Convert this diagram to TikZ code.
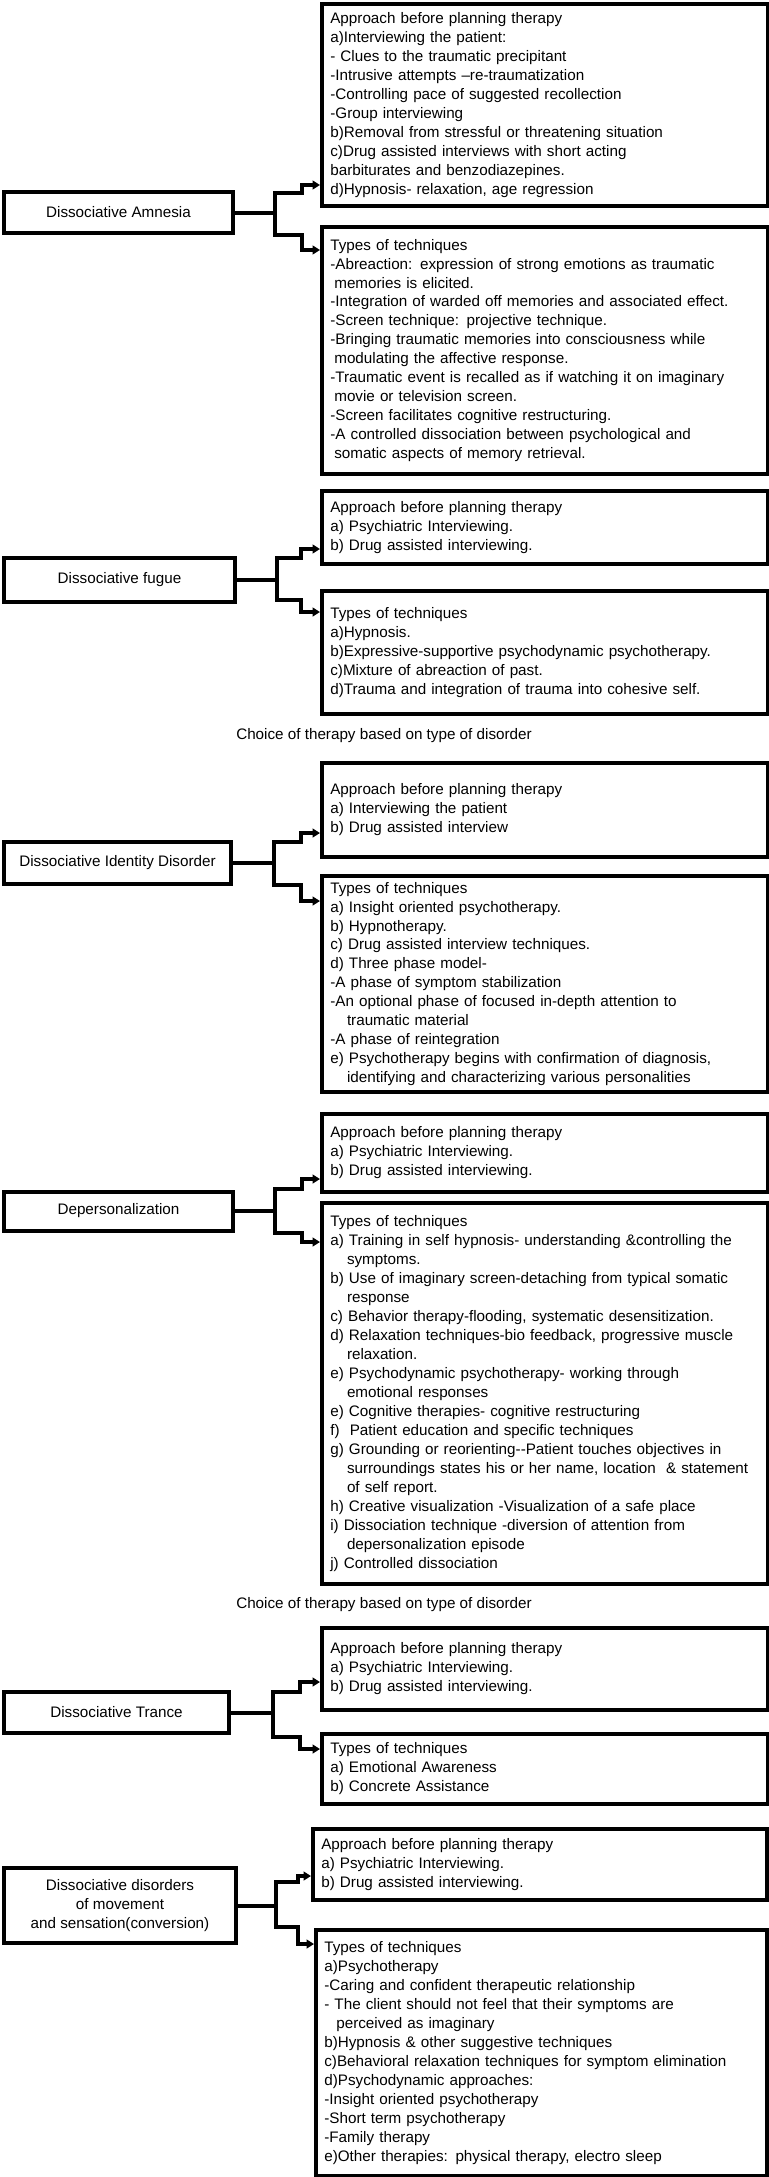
\documentclass[tikz,border=0pt]{standalone}
\usepackage{fontspec}
\setmainfont{Liberation Sans}
\usetikzlibrary{arrows.meta,calc}

\newcommand{\contline}{\hspace*{0.5cm}}

\begin{document}
\begin{tikzpicture}[
    every node/.style={font=\fontsize{13pt}{16.2pt}\selectfont},
    box/.style={draw, line width=0.12cm, anchor=north west, align=left, text width=12.88cm, inner xsep=0.25cm, inner ysep=0.1cm},
    disbox/.style={draw, line width=0.12cm, anchor=west, align=center, inner sep=0.1cm},
    conn/.style={line width=0.12cm, -{Triangle[length=0.22cm,width=0.26cm]}}
]
    \useasboundingbox (0,0) rectangle (23.07,-65.31);

    % Dissociative amnesia
    \node[disbox, minimum width=6.87cm, minimum height=1.23cm] (da) at (0.06,-6.375) {Dissociative Amnesia};
    \node[box, minimum height=6.06cm] (ap1) at (9.6,-0.06) {Approach before planning therapy\\
        a)Interviewing the patient:\\
        - Clues to the traumatic precipitant\\
        -Intrusive attempts –re-traumatization\\
        -Controlling pace of suggested recollection\\
        -Group interviewing\\
        b)Removal from stressful or threatening situation\\
        c)Drug assisted interviews with short acting\\
        barbiturates and benzodiazepines.\\
        d)Hypnosis- relaxation, age regression};
    \node[box, minimum height=7.41cm] (tt1) at (9.6,-6.75) {Types of techniques\\
        -Abreaction: expression of strong emotions as traumatic\\
        \hspace*{0.12cm}memories is elicited.\\
        -Integration of warded off memories and associated effect.\\
        -Screen technique: projective technique.\\
        -Bringing traumatic memories into consciousness while\\
        \hspace*{0.12cm}modulating the affective response.\\
        -Traumatic event is recalled as if watching it on imaginary\\
        \hspace*{0.12cm}movie or television screen.\\
        -Screen facilitates cognitive restructuring.\\
        -A controlled dissociation between psychological and\\
        \hspace*{0.12cm}somatic aspects of memory retrieval.};
    \draw[conn] (da.east) -- ++(1.2,0) |- ++(0.81,0.6) |- ($(ap1.south west)+(0,0.69)$);
    \draw[conn] (da.east) -- ++(1.2,0) |- ++(0.81,-0.66) |- ($(tt1.north west)+(0,-0.75)$);

    % Dissociative fugue
    \node[disbox, minimum width=6.93cm, minimum height=1.32cm] (df) at (0.06,-17.4) {Dissociative fugue};
    \node[box, minimum height=2.19cm] (ap2) at (9.6,-14.67) {Approach before planning therapy\\
        a) Psychiatric Interviewing.\\
        b) Drug assisted interviewing.};
    \node[box, minimum height=3.69cm] (tt2) at (9.6,-17.67) {Types of techniques\\
        a)Hypnosis.\\
        b)Expressive-supportive psychodynamic psychotherapy.\\
        c)Mixture of abreaction of past.\\
        d)Trauma and integration of trauma into cohesive self.};
    \draw[conn] (df.east) -- ++(1.2,0) |- ++(0.72,0.66) |- ($(ap2.south west)+(0,0.51)$);
    \draw[conn] (df.east) -- ++(1.2,0) |- ++(0.72,-0.6) |- ($(tt2.north west)+(0,-0.69)$);

    \node (cap1) at (11.52,-22.08) {Choice of therapy based on type of disorder};

    % Dissociative identity disorder
    \node[disbox, minimum width=6.81cm, minimum height=1.26cm] (did) at (0.06,-25.89) {Dissociative Identity Disorder};
    \node[box, minimum height=2.82cm] (ap3) at (9.6,-22.83) {Approach before planning therapy\\
        a) Interviewing the patient\\
        b) Drug assisted interview};
    \node[box, minimum height=6.48cm] (tt3) at (9.6,-26.22) {Types of techniques\\
        a) Insight oriented psychotherapy.\\
        b) Hypnotherapy.\\
        c) Drug assisted interview techniques.\\
        d) Three phase model-\\
        -A phase of symptom stabilization\\
        -An optional phase of focused in-depth attention to\\
        \contline traumatic material\\
        -A phase of reintegration\\
        e) Psychotherapy begins with confirmation of diagnosis,\\
        \contline identifying and characterizing various personalities};
    \draw[conn] (did.east) -- ++(1.23,0) |- ++(0.81,0.63) |- ($(ap3.south west)+(0,0.78)$);
    \draw[conn] (did.east) -- ++(1.23,0) |- ++(0.81,-0.66) |- ($(tt3.north west)+(0,-0.81)$);

    % Depersonalization
    \node[disbox, minimum width=6.87cm, minimum height=1.17cm] (dp) at (0.06,-36.33) {Depersonalization};
    \node[box, minimum height=2.34cm] (ap4) at (9.6,-33.36) {Approach before planning therapy\\
        a) Psychiatric Interviewing.\\
        b) Drug assisted interviewing.};
    \node[box, minimum height=11.43cm] (tt4) at (9.6,-36.03) {Types of techniques\\
        a) Training in self hypnosis- understanding \&controlling the\\
        \contline symptoms.\\
        b) Use of imaginary screen-detaching from typical somatic\\
        \contline response\\
        c) Behavior therapy-flooding, systematic desensitization.\\
        d) Relaxation techniques-bio feedback, progressive muscle\\
        \contline relaxation.\\
        e) Psychodynamic psychotherapy- working through\\
        \contline emotional responses\\
        e) Cognitive therapies- cognitive restructuring\\
        f)\ \ Patient education and specific techniques\\
        g) Grounding or reorienting-{}-Patient touches objectives in\\
        \contline surroundings states his or her name, location\ \ \& statement\\
        \contline of self report.\\
        h) Creative visualization -Visualization of a safe place\\
        i) Dissociation technique -diversion of attention from\\
        \contline depersonalization episode\\
        j) Controlled dissociation};
    \draw[conn] (dp.east) -- ++(1.2,0) |- ++(0.81,0.66) |- ($(ap4.south west)+(0,0.45)$);
    \draw[conn] (dp.east) -- ++(1.2,0) |- ++(0.81,-0.66) |- ($(tt4.north west)+(0,-1.23)$);

    \node (cap2) at (11.52,-48.15) {Choice of therapy based on type of disorder};

    % Dissociative trance
    \node[disbox, minimum width=6.75cm, minimum height=1.23cm] (dt) at (0.06,-51.375) {Dissociative Trance};
    \node[box, minimum height=2.46cm] (ap5) at (9.6,-48.78) {Approach before planning therapy\\
        a) Psychiatric Interviewing.\\
        b) Drug assisted interviewing.};
    \node[box, minimum height=2.1cm] (tt5) at (9.6,-51.96) {Types of techniques\\
        a) Emotional Awareness\\
        b) Concrete Assistance};
    \draw[conn] (dt.east) -- ++(1.26,0) |- ++(0.81,0.63) |- ($(ap5.south west)+(0,0.9)$);
    \draw[conn] (dt.east) -- ++(1.26,0) |- ++(0.81,-0.72) |- ($(tt5.north west)+(0,-0.51)$);

    % Conversion disorders
    \node[disbox, minimum width=6.96cm, minimum height=2.25cm] (dc) at (0.06,-57.165) {Dissociative disorders\\of movement\\and sensation(conversion)};
    \node[box, minimum height=2.13cm, text width=13.12cm] (ap6) at (9.33,-54.81) {Approach before planning therapy\\
        a) Psychiatric Interviewing.\\
        b) Drug assisted interviewing.};
    \node[box, minimum height=7.38cm, text width=13.03cm] (tt6) at (9.42,-57.84) {Types of techniques\\
        a)Psychotherapy\\
        -Caring and confident therapeutic relationship\\
        - The client should not feel that their symptoms are\\
        \hspace*{0.36cm}perceived as imaginary\\
        b)Hypnosis \& other suggestive techniques\\
        c)Behavioral relaxation techniques for symptom elimination\\
        d)Psychodynamic approaches:\\
        -Insight oriented psychotherapy\\
        -Short term psychotherapy\\
        -Family therapy\\
        e)Other therapies: physical therapy, electro sleep};
    \draw[conn] (dc.east) -- ++(1.14,0) |- ++(0.66,0.72) |- ($(ap6.south west)+(0,0.78)$);
    \draw[conn] (dc.east) -- ++(1.14,0) |- ++(0.66,-0.63) |- ($(tt6.north west)+(0,-0.48)$);
\end{tikzpicture}
\end{document}
